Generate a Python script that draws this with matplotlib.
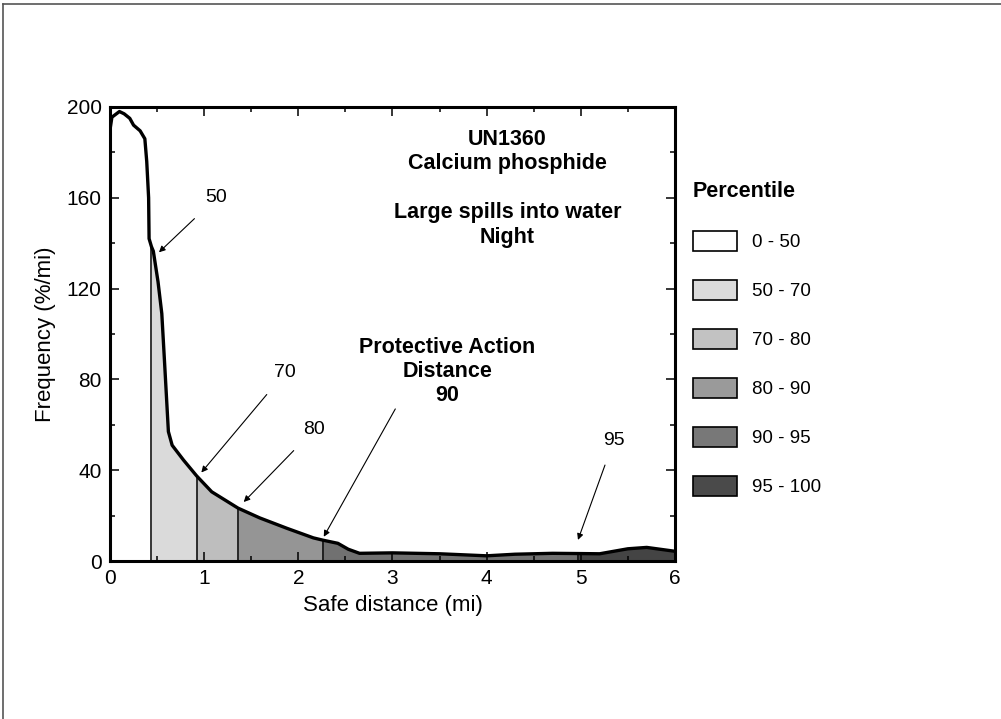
import matplotlib.pyplot as plt
import numpy as np
from matplotlib.patches import Patch
from matplotlib.lines import Line2D
from matplotlib.ticker import MultipleLocator

plt.rcParams['font.family'] = ['Liberation Sans', 'DejaVu Sans']

# Frequency curve
distance = [0.0, 0.0, 0.02, 0.10, 0.15, 0.21, 0.25, 0.32, 0.37, 0.39, 0.41, 0.415,
            0.44, 0.46, 0.51, 0.55, 0.58, 0.62, 0.66, 0.78, 0.92, 1.08, 1.36, 1.59,
            1.88, 2.16, 2.26, 2.42, 2.53, 2.65, 3.0, 3.5, 4.0, 4.3, 4.7, 4.97, 5.2,
            5.5, 5.7, 6.0]
frequency = [0, 190, 195.5, 198, 197, 195, 192, 189.5, 186, 176, 160, 142,
             138.5, 136.5, 123, 109, 87, 57, 51, 44.5, 37.5, 30.5, 23.3, 19,
             14.4, 10.2, 9.2, 7.8, 5.2, 3.4, 3.6, 3.2, 2.3, 3.0, 3.4, 3.3, 3.2,
             5.4, 6.0, 4.3]

# Percentile band edges (mi) and labels
band_edges = [0.0, 0.44, 0.92, 1.36, 2.26, 4.97, 6.0]
band_labels = ["0 - 50", "50 - 70", "70 - 80", "80 - 90", "90 - 95", "95 - 100"]
band_colors = ["#ffffff", "#dadada", "#bebebe", "#959595", "#717171", "#444444"]
legend_colors = ["#ffffff", "#dadada", "#c2c2c2", "#9a9a9a", "#787878", "#4a4a4a"]

# Arrow annotations: label, arrow tip (x, y), label position (x, y)
marker_labels = ["50", "70", "80", "95"]
marker_tips = [(0.52, 136), (0.97, 39), (1.42, 26), (4.97, 9.3)]
marker_text = [(1.13, 160), (1.86, 83), (2.17, 58), (5.35, 53)]

x = np.array(distance)
y = np.array(frequency)

fig = plt.figure(figsize=(10.01, 7.19), dpi=100)
ax = fig.add_axes([0.1099, 0.2197, 0.5644, 0.6315])

for i in range(len(band_labels)):
    mask = (x >= band_edges[i]) & (x <= band_edges[i + 1])
    ax.fill_between(x, y, where=mask, color=band_colors[i], lw=0)

# vertical divider lines at band edges
for e in band_edges[1:-1]:
    h = y[np.where(x == e)[0][0]]
    ax.vlines(e, 0, h, color="black", lw=1.1)

ax.plot(x, y, color="black", lw=2.4, solid_joinstyle="round")

ax.set_xlim(0, 6)
ax.set_ylim(0, 200)
ax.xaxis.set_major_locator(MultipleLocator(1))
ax.xaxis.set_minor_locator(MultipleLocator(0.5))
ax.yaxis.set_major_locator(MultipleLocator(40))
ax.yaxis.set_minor_locator(MultipleLocator(20))
ax.tick_params(which="both", direction="in", top=True, right=True, width=1.1,
               labelsize=15, pad=6)
ax.tick_params(which="major", length=6.5)
ax.tick_params(which="minor", length=3.6)
for s in ax.spines.values():
    s.set_linewidth(2.2)

ax.set_xlabel("Safe distance (mi)", fontsize=16, labelpad=5)
ax.set_ylabel("Frequency (%/mi)", fontsize=16, labelpad=8)

# Arrows with percentile numbers
for lab, tip, pos in zip(marker_labels, marker_tips, marker_text):
    ax.annotate(lab, xy=tip, xytext=pos, fontsize=14, ha="center", va="center",
                arrowprops=dict(arrowstyle="-|>", color="black", lw=0.8,
                                mutation_scale=9, shrinkA=10, shrinkB=0))

ax.annotate("", xy=(2.27, 10.7), xytext=(3.03, 67),
            arrowprops=dict(arrowstyle="-|>", color="black", lw=0.8,
                            mutation_scale=9, shrinkA=0, shrinkB=0))

ax.text(4.22, 180.5, "UN1360\nCalcium phosphide", fontsize=15.5, fontweight="bold",
        ha="center", va="center", linespacing=1.2)
ax.text(4.22, 148, "Large spills into water\nNight", fontsize=15.5,
        fontweight="bold", ha="center", va="center", linespacing=1.2)
ax.text(3.58, 83.5, "Protective Action\nDistance\n90", fontsize=15.5,
        fontweight="bold", ha="center", va="center", linespacing=1.2)

handles = [Patch(facecolor=c, edgecolor="black", lw=1.2) for c in legend_colors]
leg = fig.legend(handles, band_labels, loc="upper left",
                 bbox_to_anchor=(693 / 1001, 1 - 181 / 719), frameon=False,
                 fontsize=13.5, title="Percentile", alignment="left",
                 borderpad=0, borderaxespad=0, handlelength=2.35,
                 handleheight=1.3, labelspacing=1.52, handletextpad=0.8)
leg.get_title().set_fontweight("bold")
leg.get_title().set_fontsize(15.5)

# page frame (top and left edges)
fig.add_artist(Line2D([0.003, 0.003], [0, 0.995], transform=fig.transFigure,
                      color="#555555", lw=1.2))
fig.add_artist(Line2D([0.003, 1], [0.995, 0.995], transform=fig.transFigure,
                      color="#555555", lw=1.2))

fig.savefig("out.png", dpi=100, facecolor="white")
